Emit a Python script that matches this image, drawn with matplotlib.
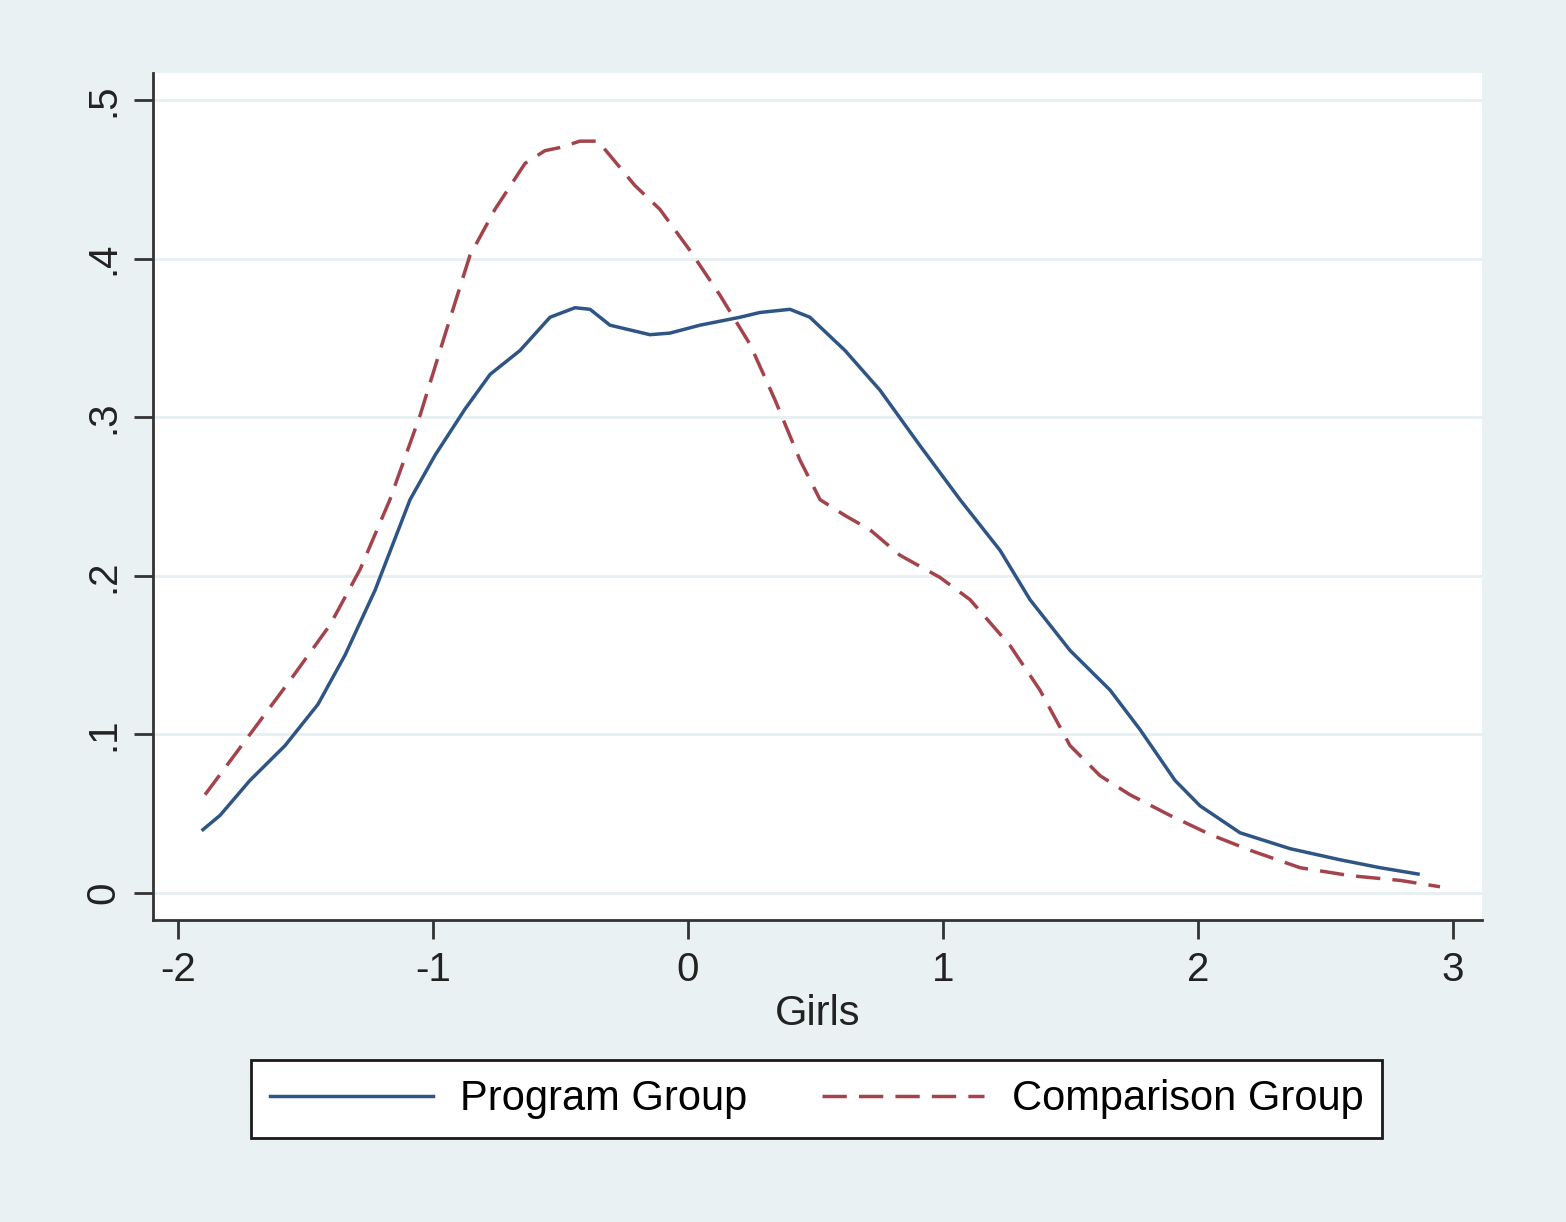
import matplotlib
matplotlib.use("Agg")
import matplotlib.pyplot as plt

prog_x = [-1.902, -1.835, -1.718, -1.58, -1.451, -1.345, -1.227, -1.09, -0.992, -0.875,
          -0.776, -0.659, -0.541, -0.443, -0.384, -0.306, -0.149, -0.071, 0.047, 0.204,
          0.282, 0.4, 0.478, 0.616, 0.753, 0.91, 1.067, 1.224, 1.341, 1.498, 1.655,
          1.773, 1.91, 2.008, 2.165, 2.361, 2.557, 2.714, 2.863]
prog_y = [0.040, 0.049, 0.071, 0.093, 0.119, 0.150, 0.191, 0.248, 0.276, 0.305,
          0.327, 0.342, 0.363, 0.369, 0.368, 0.358, 0.352, 0.353, 0.358, 0.363,
          0.366, 0.368, 0.363, 0.342, 0.317, 0.282, 0.248, 0.216, 0.185, 0.153, 0.128,
          0.103, 0.071, 0.055, 0.038, 0.028, 0.021, 0.016, 0.012]

comp_x = [-1.894, -1.718, -1.561, -1.404, -1.286, -1.169, -1.051, -0.953, -0.855, -0.757,
          -0.639, -0.561, -0.502, -0.424, -0.353, -0.306, -0.208, -0.110, 0.008, 0.125,
          0.243, 0.341, 0.439, 0.518, 0.616, 0.714, 0.831, 0.988, 1.106, 1.263, 1.380,
          1.498, 1.616, 1.733, 1.890, 2.047, 2.204, 2.4, 2.596, 2.792, 2.949]
comp_y = [0.062, 0.100, 0.134, 0.169, 0.204, 0.248, 0.301, 0.352, 0.402, 0.431,
          0.460, 0.468, 0.470, 0.474, 0.474, 0.465, 0.446, 0.431, 0.405, 0.377,
          0.346, 0.311, 0.273, 0.248, 0.238, 0.229, 0.213, 0.199, 0.185, 0.156, 0.128,
          0.093, 0.074, 0.062, 0.049, 0.037, 0.027, 0.016, 0.011, 0.008, 0.004]

x_ticks = [-2, -1, 0, 1, 2, 3]
x_labels = ["-2", "-1", "0", "1", "2", "3"]
y_ticks = [0, 0.1, 0.2, 0.3, 0.4, 0.5]
y_labels = ["0", ".1", ".2", ".3", ".4", ".5"]

plt.rcParams['font.family'] = ['Liberation Sans', 'DejaVu Sans']
bg = "#eaf1f3"
blue = "#2f5585"
red = "#a3434b"

fig = plt.figure(figsize=(15.66, 12.22), dpi=100, facecolor=bg)
ax = fig.add_axes([0.0977, 0.2471, 0.8487, 0.6932])
ax.set_facecolor("white")

for yt in y_ticks:
    ax.axhline(yt, color="#e6eff1", lw=2, zorder=0)

l1, = ax.plot(prog_x, prog_y, color=blue, lw=2.5, label="Program Group",
              solid_joinstyle="round")
l2, = ax.plot(comp_x, comp_y, color=red, lw=2.5, dashes=(7, 3.5), label="Comparison Group")

ax.set_xlim(-2.098, 3.114)
ax.set_ylim(-0.017, 0.517)
ax.set_xticks(x_ticks)
ax.set_xticklabels(x_labels)
ax.set_yticks(y_ticks)
ax.set_yticklabels(y_labels, rotation=90, va="center")
ax.tick_params(axis="both", labelsize=29, length=14, width=2, color="#333333",
               labelcolor="#222222", pad=8)
for s in ["top", "right"]:
    ax.spines[s].set_visible(False)
for s in ["left", "bottom"]:
    ax.spines[s].set_linewidth(2)
    ax.spines[s].set_color("#333333")

ax.set_xlabel("Girls", fontsize=30, color="#222222", labelpad=4)

leg = fig.legend(handles=[l1, l2], loc="center", bbox_to_anchor=(0.5215, 0.1005),
                 ncol=2, fontsize=30, frameon=True, fancybox=False,
                 edgecolor="#1a1a1a", facecolor="white", framealpha=1,
                 handlelength=3.9, columnspacing=1.8, borderpad=0.45,
                 handletextpad=0.65, borderaxespad=0)
leg.get_frame().set_linewidth(2)

fig.savefig("out.png", dpi=100, facecolor=bg)
